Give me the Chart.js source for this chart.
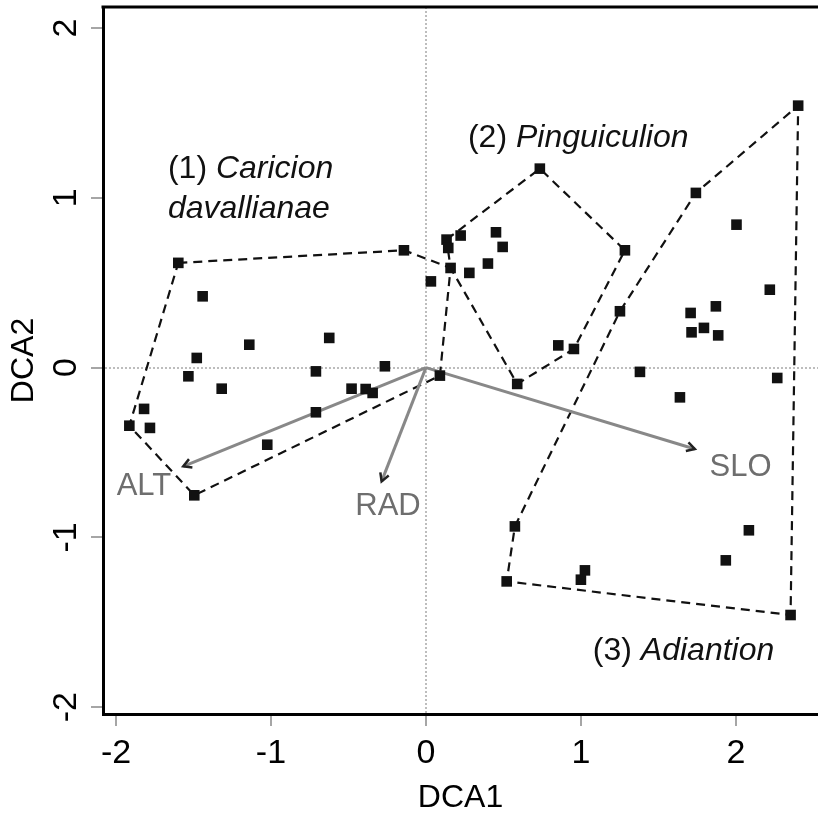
<!DOCTYPE html>
<html>
<head>
<meta charset="utf-8">
<script src="https://cdn.jsdelivr.net/npm/chart.js@4"></script>
<style>
  html, body { margin: 0; padding: 0; background: #fff; }
  canvas { display: block; }
</style>
</head>
<body>
<canvas id="dca" width="818" height="818"></canvas>
<script>
// DCA ordination: site scores (DCA1, DCA2)
const siteX = [
  -1.598, -1.441, -1.14, -0.624, -1.479, -1.533, -1.318, -0.71, -0.265, -0.48,
  -0.389, -0.344, -0.71, -1.819, -1.914, -1.781, -1.024, -1.495, 0.09, -0.142,
  0.032, 0.159, 0.133, 0.144, 0.224, 0.452, 0.495, 0.28, 0.40, 0.735,
  1.284, 0.854, 0.955, 0.589, 1.252, 1.742, 2.402, 2.004, 2.219, 1.708,
  1.871, 1.714, 1.794, 1.886, 1.381, 1.639, 2.267, 2.084, 1.935, 1.026,
  1.0, 0.574, 0.521, 2.353,
];
const siteY = [
  0.617, 0.42, 0.135, 0.175, 0.057, -0.051, -0.124, -0.022, 0.008, -0.124,
  -0.126, -0.149, -0.263, -0.243, -0.342, -0.355, -0.454, -0.752, -0.047, 0.691,
  0.508, 0.587, 0.754, 0.705, 0.778, 0.797, 0.711, 0.558, 0.613, 1.172,
  0.691, 0.131, 0.11, -0.096, 0.332, 1.029, 1.543, 0.842, 0.459, 0.322,
  0.361, 0.208, 0.234, 0.19, -0.025, -0.175, -0.061, -0.958, -1.135, -1.194,
  -1.249, -0.935, -1.259, -1.457,
];

// hull vertices (indices into the site arrays), one per alliance
const hullCaricion = [0, 19, 21, 18, 17, 14];
const hullPinguiculion = [22, 29, 30, 32, 33, 21];
const hullAdiantion = [51, 34, 35, 36, 53, 52];

// environmental vectors
const envNames = ["ALT", "RAD", "SLO"];
const envX = [-1.566, -0.286, 1.735];
const envY = [-0.581, -0.67, -0.479];

const xTicks = [-2, -1, 0, 1, 2];
const yTicks = [-2, -1, 0, 1, 2];

const FONT = "'Liberation Sans', Arial, sans-serif";

// annotation anchors, in data units
const groupLabels = [
  { num: "(1) ", name: "Caricion", x: -1.665, y: 1.119 },
  { num: "", name: "davallianae", x: -1.665, y: 0.884 },
  { num: "(2) ", name: "Pinguiculion", x: 0.271, y: 1.302 },
  { num: "(3) ", name: "Adiantion", x: 1.077, y: -1.72 },
];
const envLabelPos = [
  { x: -1.82, y: -0.748 },
  { x: -0.245, y: -0.87 },
  { x: 2.03, y: -0.64 },
];

const hullData = (idx) => idx.concat(idx[0]).map((i) => ({ x: siteX[i], y: siteY[i] }));

const hullStyle = {
  type: "line",
  showLine: true,
  fill: false,
  borderColor: "#111",
  borderWidth: 2.2,
  borderDash: [9, 6],
  pointRadius: 0,
  tension: 0,
  order: 2,
};

const datasets = [
  {
    type: "scatter",
    label: "sites",
    data: siteX.map((x, i) => ({ x, y: siteY[i] })),
    pointStyle: "rect",
    pointRadius: 7.5,
    backgroundColor: "#111",
    borderColor: "#111",
    borderWidth: 0,
    order: 0,
  },
  { ...hullStyle, label: "Caricion", data: hullData(hullCaricion) },
  { ...hullStyle, label: "Pinguiculion", data: hullData(hullPinguiculion) },
  { ...hullStyle, label: "Adiantion", data: hullData(hullAdiantion) },
];
envNames.forEach((name, i) => {
  datasets.push({
    type: "line",
    label: name,
    data: [{ x: 0, y: 0 }, { x: envX[i], y: envY[i] }],
    borderColor: "#888",
    borderWidth: 3,
    pointRadius: 0,
    fill: false,
    order: 1,
    isArrow: true,
  });
});

const decorations = {
  id: "decorations",
  afterDatasetsDraw(chart) {
    const { ctx, chartArea, scales } = chart;
    const sx = scales.x, sy = scales.y;
    ctx.save();

    // top frame line
    ctx.strokeStyle = "#000";
    ctx.lineWidth = 3;
    ctx.beginPath();
    ctx.moveTo(chartArea.left - 1.5, chartArea.top);
    ctx.lineTo(chartArea.right, chartArea.top);
    ctx.stroke();

    // arrow heads (small dark chevrons)
    ctx.strokeStyle = "#222";
    ctx.lineWidth = 2.5;
    ctx.lineJoin = "miter";
    chart.data.datasets.forEach((ds) => {
      if (!ds.isArrow) return;
      const x0 = sx.getPixelForValue(ds.data[0].x), y0 = sy.getPixelForValue(ds.data[0].y);
      const x1 = sx.getPixelForValue(ds.data[1].x), y1 = sy.getPixelForValue(ds.data[1].y);
      const a = Math.atan2(y1 - y0, x1 - x0);
      const len = 8, half = 4.5;
      ctx.beginPath();
      ctx.moveTo(x1 - len * Math.cos(a) + half * Math.sin(a), y1 - len * Math.sin(a) - half * Math.cos(a));
      ctx.lineTo(x1, y1);
      ctx.lineTo(x1 - len * Math.cos(a) - half * Math.sin(a), y1 - len * Math.sin(a) + half * Math.cos(a));
      ctx.stroke();
    });

    // vector labels
    ctx.fillStyle = "#6e6e6e";
    ctx.font = "31px " + FONT;
    ctx.textAlign = "center";
    ctx.textBaseline = "alphabetic";
    envNames.forEach((name, i) => {
      ctx.fillText(name, sx.getPixelForValue(envLabelPos[i].x), sy.getPixelForValue(envLabelPos[i].y));
    });

    // alliance labels: number upright, name italic
    ctx.fillStyle = "#111";
    ctx.textAlign = "left";
    groupLabels.forEach((g) => {
      let px = sx.getPixelForValue(g.x);
      const py = sy.getPixelForValue(g.y);
      ctx.font = "32px " + FONT;
      ctx.fillText(g.num, px, py);
      px += ctx.measureText(g.num).width;
      ctx.font = "italic 32px " + FONT;
      ctx.fillText(g.name, px, py);
    });
    ctx.restore();
  },
};

const zeroGrid = (c) => (c.tick && c.tick.value === 0 ? "#bdbdbd" : "rgba(0,0,0,0)");
const noPadding = (s) => {
  s.paddingTop = 0;
  s.paddingBottom = 0;
  s.paddingLeft = 0;
  s.paddingRight = 0;
};

new Chart(document.getElementById("dca"), {
  data: { datasets },
  options: {
    responsive: false,
    animation: false,
    layout: { autoPadding: false, padding: { top: 7, right: 0, bottom: 0, left: 0 } },
    plugins: { legend: { display: false }, tooltip: { enabled: false } },
    scales: {
      x: {
        type: "linear",
        position: "bottom",
        min: -2.084,
        max: 2.53,
        afterBuildTicks: (s) => { s.ticks = xTicks.map((v) => ({ value: v })); },
        afterFit: (s) => { s.height = 104; noPadding(s); },
        grid: { color: zeroGrid, lineWidth: 2, tickLength: 12, tickColor: "#888", tickWidth: 1.5, tickBorderDash: [] },
        border: { color: "#000", width: 3, dash: [2, 2] },
        ticks: { color: "#000", font: { family: FONT, size: 34 }, padding: 7, callback: (v) => String(v) },
        title: { display: true, text: "DCA1", color: "#000", font: { family: FONT, size: 32 }, padding: { top: 0, bottom: 1 } },
      },
      y: {
        type: "linear",
        position: "left",
        min: -2.04,
        max: 2.124,
        afterBuildTicks: (s) => { s.ticks = yTicks.map((v) => ({ value: v })); },
        afterFit: (s) => { s.width = 103; noPadding(s); },
        grid: { color: zeroGrid, lineWidth: 2, tickLength: 12, tickColor: "#888", tickWidth: 1.5, tickBorderDash: [] },
        border: { color: "#000", width: 3, dash: [2, 2] },
        ticks: {
          color: "#000", font: { family: FONT, size: 34 }, padding: 9,
          minRotation: 90, maxRotation: 90, crossAlign: "center",
          callback: (v) => String(v),
        },
        title: { display: true, text: "DCA2", color: "#000", font: { family: FONT, size: 32 }, padding: { top: 5, bottom: 0 } },
      },
    },
  },
  plugins: [decorations],
});
</script>
</body>
</html>
